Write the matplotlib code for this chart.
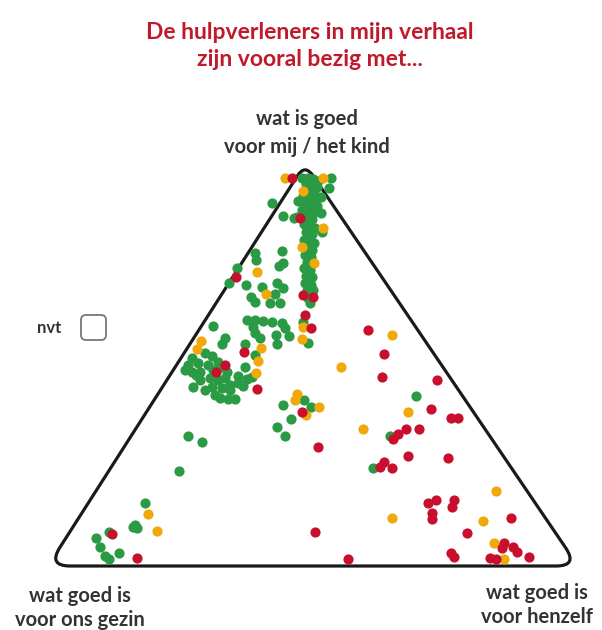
import matplotlib
matplotlib.use("Agg")
import matplotlib.pyplot as plt
from matplotlib.path import Path
from matplotlib.patches import PathPatch, FancyBboxPatch
import numpy as np

# positions inside the triad: x = distance from the left corner, y = height above the base
# (corners: links (0,0), rechts (530,0), top (257,402))
green_x = [254, 260, 265, 270, 283, 281, 258, 264, 269, 261, 266, 255, 262, 268, 273,
           257, 263, 269, 250, 254, 260, 266, 273, 258, 264, 249, 256, 262, 267, 258,
           264, 274, 256, 262, 266, 259, 264, 257, 263, 259, 265, 256, 262, 258, 264,
           257, 263, 259, 265, 260, 262, 224, 235, 246, 234, 235, 231, 207, 208, 189,
           181, 229, 235, 227, 214, 198, 222, 232, 203, 207, 255, 260, 165, 199, 207,
           215, 224, 234, 237, 205, 207, 228, 241, 229, 212, 177, 174, 197, 207,
           144, 157, 164, 140, 150, 160, 172, 179, 165, 137, 144, 148, 162, 170, 177,
           190, 199, 197, 190, 195, 145, 164, 174, 172, 180, 187, 204, 152, 157, 182,
           167, 152, 182, 170,
           256, 263, 235, 243, 229, 237, 140, 154, 131, 368, 342, 325,
           97, 85, 89, 87, 61, 48, 52, 71, 57, 61]
green_y = [388, 388, 387, 385, 388, 378, 382, 380, 379, 376, 373, 370, 369, 368, 369,
           363, 362, 360, 365, 356, 355, 354, 353, 348, 347, 349, 342, 340, 338, 334,
           332, 334, 326, 325, 323, 318, 316, 311, 309, 304, 303, 298, 296, 290, 289,
           283, 281, 276, 276, 268, 263, 363, 350, 348, 315, 303, 300, 313, 306, 298,
           283, 283, 278, 272, 279, 281, 263, 263, 269, 264, 244, 223, 240, 246, 246,
           245, 244, 243, 238, 239, 233, 231, 230, 222, 228, 228, 222, 222, 211,
           208, 213, 210, 201, 203, 201, 199, 194, 196, 196, 194, 191, 188, 186, 188,
           190, 187, 199, 183, 180, 179, 179, 178, 168, 167, 167, 189, 186, 176, 176,
           171, 194, 181, 204,
           166, 159, 161, 147, 139, 130, 130, 124, 95, 170, 130, 98,
           63, 39, 38, 41, 34, 28, 19, 13, 10, 7]

orange_x = [237, 275, 255, 275, 254, 266, 218, 209, 255, 254, 153, 149, 213, 210, 208,
            293, 249, 247, 271, 258, 344, 360, 315, 448, 344, 435, 446, 456, 100, 109]
orange_y = [388, 388, 375, 338, 319, 303, 272, 294, 239, 227, 225, 217, 218, 205, 193,
            199, 172, 166, 159, 151, 231, 154, 137, 75, 48, 45, 23, 7, 52, 35]

red_x = [244, 252, 188, 255, 265, 257, 263, 196, 168, 177, 209, 254, 270, 320, 336,
         334, 389, 383, 403, 410, 358, 371, 350, 345, 360, 400, 336, 332, 344, 388,
         380, 406, 404, 384, 384, 463, 267, 419, 456, 454, 465, 469, 403, 406, 442,
         448, 481, 300, 89, 64]
red_y = [388, 348, 289, 271, 269, 251, 238, 214, 194, 201, 177, 154, 119, 236, 212,
         189, 186, 157, 148, 148, 137, 137, 132, 127, 110, 108, 104, 99, 98, 66,
         63, 66, 59, 53, 47, 48, 34, 33, 23, 18, 19, 14, 13, 9, 8,
         7, 9, 7, 8, 32]

corners = [(0, 0), (530, 0), (257, 402)]

title = "De hulpverleners in mijn verhaal\nzijn vooral bezig met..."
label_top = "wat is goed\nvoor mij / het kind"
label_left = "wat goed is\nvoor ons gezin"
label_right = "wat goed is\nvoor henzelf"

GREEN = "#2a9a45"
ORANGE = "#f0a80a"
RED = "#c8102e"


def rounded_triangle(pts, d):
    pts = [np.array(p, dtype=float) for p in pts]
    verts, codes = [], []
    n = len(pts)
    for i in range(n):
        c = pts[i]
        prev = pts[i - 1]
        nxt = pts[(i + 1) % n]
        a = c + d[i] * (prev - c) / np.linalg.norm(prev - c)
        b = c + d[i] * (nxt - c) / np.linalg.norm(nxt - c)
        verts += [a, c, b]
        codes += [Path.LINETO, Path.CURVE3, Path.CURVE3]
    codes[0] = Path.MOVETO
    verts.append(verts[0])
    codes.append(Path.CLOSEPOLY)
    return Path(verts, codes)


fig = plt.figure(figsize=(6.02, 6.30), dpi=100)
ax = fig.add_axes([0, 0, 1, 1])
ax.set_xlim(-48, 554)
ax.set_ylim(-64, 566)
ax.axis("off")

tri = rounded_triangle(corners, [22, 22, 14])
ax.add_patch(PathPatch(tri, facecolor="none", edgecolor="#1a1a1a", lw=2.3, zorder=1))

ax.scatter(green_x, green_y, s=54, c=GREEN, lw=0, zorder=2)
ax.scatter(orange_x, orange_y, s=54, c=ORANGE, lw=0, zorder=3)
ax.scatter(red_x, red_y, s=54, c=RED, lw=0, zorder=4)

font = "Lato"
ax.text(262, 520, title, ha="center", va="center", color="#c0192c",
        fontsize=16.5, fontweight="bold", family=font, linespacing=1.32)
ax.text(259, 433, label_top, ha="center", va="center", color="#333333",
        fontsize=14.5, fontweight="bold", family=font, linespacing=1.45)
ax.text(32, -42, label_left, ha="center", va="center", color="#333333",
        fontsize=14.5, fontweight="bold", family=font, linespacing=1.2)
ax.text(489, -39, label_right, ha="center", va="center", color="#333333",
        fontsize=14.5, fontweight="bold", family=font, linespacing=1.2)

ax.text(1, 238, "nvt", ha="center", va="center", color="#333333",
        fontsize=12, fontweight="bold", family=font)
ax.add_patch(FancyBboxPatch((33, 226), 25, 25, boxstyle="round,pad=0,rounding_size=5",
                            facecolor="white", edgecolor="#777777", lw=1.3))

fig.savefig("out.png", dpi=100)
